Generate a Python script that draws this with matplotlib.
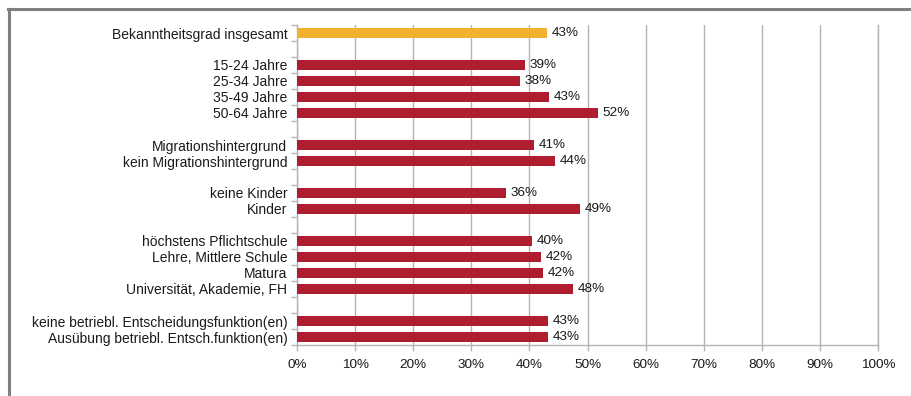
import numpy as np
import matplotlib
matplotlib.use("Agg")
import matplotlib.pyplot as plt
from matplotlib.lines import Line2D

plt.rcParams["font.family"] = ["Liberation Sans", "DejaVu Sans"]

# rows top to bottom; None marks an empty spacer row
labels = ["Bekanntheitsgrad insgesamt", None,
          "15-24 Jahre", "25-34 Jahre", "35-49 Jahre", "50-64 Jahre", None,
          "Migrationshintergrund", "kein Migrationshintergrund", None,
          "keine Kinder", "Kinder", None,
          "höchstens Pflichtschule", "Lehre, Mittlere Schule", "Matura",
          "Universität, Akademie, FH", None,
          "keine betriebl. Entscheidungsfunktion(en)",
          "Ausübung betriebl. Entsch.funktion(en)"]
values = [43.1, None,
          39.2, 38.4, 43.4, 51.8, None,
          40.8, 44.4, None,
          36.0, 48.7, None,
          40.4, 42.0, 42.3, 47.5, None,
          43.2, 43.2]
shown = ["43%", None, "39%", "38%", "43%", "52%", None, "41%", "44%", None,
         "36%", "49%", None, "40%", "42%", "42%", "48%", None, "43%", "43%"]
xticks = [0, 10, 20, 30, 40, 50, 60, 70, 80, 90, 100]

ORANGE = "#f2b230"
RED = "#ae1e2e"
GRID = "#b4b4b4"
TXT = "#1a1a1a"

fig = plt.figure(figsize=(9.11, 3.96), dpi=100)
ax = fig.add_axes([297 / 911, 1 - 345 / 396, 581 / 911, 320 / 396])

n = len(labels)
for i, (v, s) in enumerate(zip(values, shown)):
    if v is None:
        continue
    c = ORANGE if i == 0 else RED
    ax.barh(i, v, height=0.6, color=c, zorder=3)
    ax.text(v + 0.8, i, s, va="center", ha="left", fontsize=9.7, color=TXT)

ax.set_ylim(n - 0.5, -0.5)
ax.set_xlim(0, 100)
ax.set_xticks(xticks)
ax.set_xticklabels([f"{t}%" for t in xticks], fontsize=9.7, color=TXT)
ax.set_yticks([i for i, l in enumerate(labels) if l is not None])
ax.set_yticklabels([l for l in labels if l is not None], fontsize=10, color=TXT)
ax.set_yticks(np.arange(-0.5, n, 1.0), minor=True)
ax.tick_params(axis="y", which="major", length=0, pad=7)
ax.tick_params(axis="y", which="minor", length=4, color=GRID, width=1)
ax.tick_params(axis="x", length=4, color=GRID, width=1, pad=6)

ax.grid(axis="x", color=GRID, lw=1, zorder=0)
ax.spines["top"].set_visible(False)
for sp in ["left", "bottom", "right"]:
    ax.spines[sp].set_color(GRID)
    ax.spines[sp].set_linewidth(1)

# outer frame (left and top only)
fig.add_artist(Line2D([8.5 / 911, 8.5 / 911], [0, 1 - 8.5 / 396],
                      transform=fig.transFigure, color="#808080", lw=2.2))
fig.add_artist(Line2D([7.5 / 911, 1], [1 - 8.5 / 396, 1 - 8.5 / 396],
                      transform=fig.transFigure, color="#808080", lw=2.2))

fig.savefig("out.png", dpi=100)
